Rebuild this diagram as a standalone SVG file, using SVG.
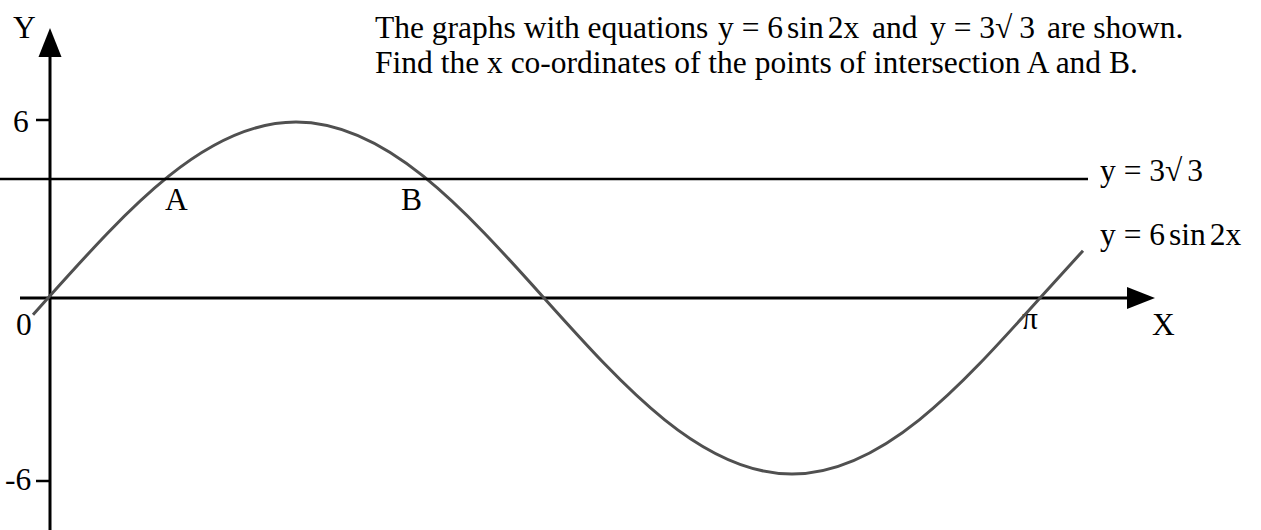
<svg xmlns="http://www.w3.org/2000/svg" width="1261" height="530" viewBox="0 0 1261 530">
<style>
text{font-family:"Liberation Serif","Times New Roman",serif;font-size:31.5px;fill:#000}
.ax{stroke:#000;stroke-width:3;fill:none}
.tick{stroke:#000;stroke-width:2.5}
.curve{stroke:#505050;stroke-width:3;fill:none;stroke-linejoin:round}
.hline{stroke:#000;stroke-width:2.5}
</style>
<rect width="1261" height="530" fill="#fff"/>
<g id="axes">
<line class="ax" x1="50" y1="55" x2="50" y2="530"/>
<polygon points="50,28 38.5,57 61.5,57" fill="#000"/>
<line class="ax" x1="20" y1="298" x2="1130" y2="298"/>
<polygon points="1155,298 1127,287 1127,309" fill="#000"/>
<line class="tick" x1="36" y1="120" x2="50" y2="120"/>
<line class="tick" x1="36" y1="481" x2="50" y2="481"/>
<text x="13" y="38">Y</text>
<text x="1152" y="335">X</text>
<text x="13" y="132">6</text>
<text x="5" y="490">-6</text>
<text x="16" y="335">0</text>
<text x="1022" y="329">π</text>
</g>
<g id="connectors">
<path id="sine" class="curve" d="M33,314.7 L48,298 C128.9,207.8 206.3,122 296,122 C385.7,122 463.1,207.8 544,298 C624.9,388.2 702.3,474 792,474 C881.7,474 959.1,388.2 1040,298 L1083,250.7"/>
<line id="hline" class="hline" x1="0" y1="179" x2="1088" y2="179"/>
</g>
<g id="labels">
<text x="165" y="210">A</text>
<text x="401" y="210">B</text>
<text x="1100" y="181">y = 3√<tspan dx="5">3</tspan></text>
<text x="1100" y="245">y = 6<tspan dx="4">sin</tspan><tspan dx="4">2x</tspan></text>
</g>
<g id="question">
<text x="375" y="38">The graphs with equations <tspan x="718">y = 6</tspan><tspan dx="4">sin</tspan><tspan dx="4">2x</tspan><tspan x="872">and</tspan><tspan x="930">y = 3√</tspan><tspan dx="7">3</tspan><tspan x="1047">are shown.</tspan></text>
<text x="375" y="73">Find the x co-ordinates of the points of intersection A and B.</text>
</g>
</svg>
